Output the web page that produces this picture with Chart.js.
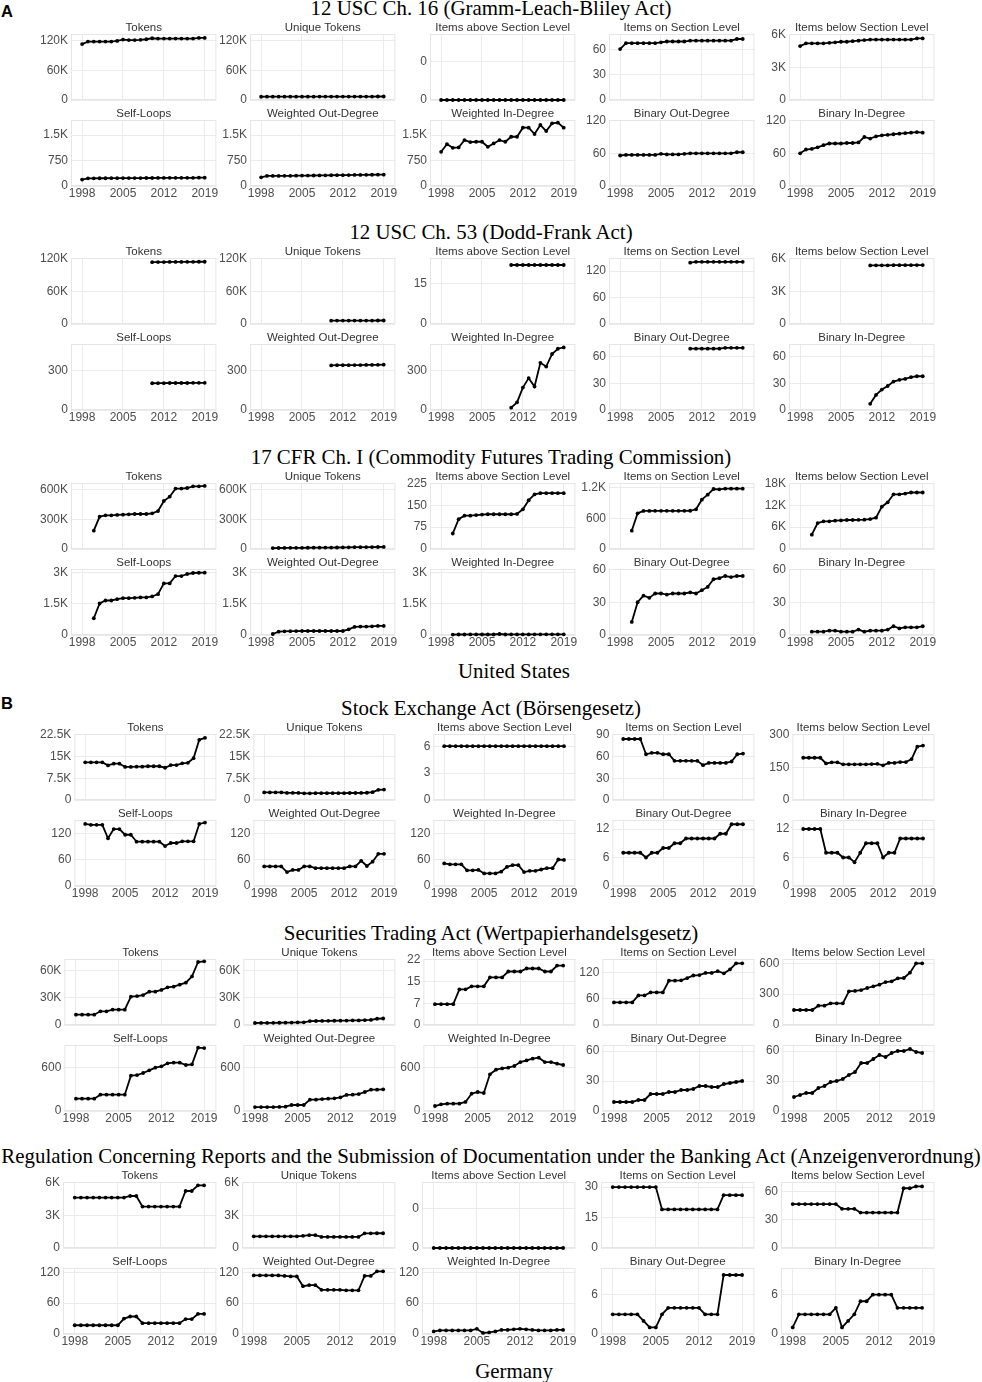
<!DOCTYPE html>
<html>
<head>
<meta charset="utf-8">
<script src="https://cdn.jsdelivr.net/npm/chart.js@4.4.1/dist/chart.umd.min.js"></script>
<style>
  html, body { margin: 0; padding: 0; background: #fff; }
  #page { position: relative; width: 982px; height: 1382px; overflow: hidden; }
  #page canvas { position: absolute; }
  #labels { position: absolute; left: 0; top: 0; }
</style>
</head>
<body>
<div id="page">
  <svg id="labels" width="982" height="1382" xmlns="http://www.w3.org/2000/svg"></svg>
</div>
<script>
// facet titles, same order in every group
const panelNames = ['Tokens', 'Unique Tokens', 'Items above Section Level', 'Items on Section Level',
  'Items below Section Level', 'Self-Loops', 'Weighted Out-Degree', 'Weighted In-Degree',
  'Binary Out-Degree', 'Binary In-Degree'];
const xTicks = [1998, 2005, 2012, 2019];

// ---- 12 USC Ch. 16 (1998-2019)
const usc16Tokens = [113000, 118000, 118000, 118000, 118000, 118000, 119300, 122000, 121000, 121000, 121500, 122700, 124700, 124000, 124000, 124000, 124000, 124000, 124000, 124000, 125300, 125300];
const usc16Unique = [6600, 6700, 6700, 6700, 6700, 6700, 6800, 6800, 6800, 6800, 6900, 6900, 7000, 7000, 7000, 7000, 7000, 7000, 7000, 7000, 7100, 7100];
const usc16Above = [0, 0, 0, 0, 0, 0, 0, 0, 0, 0, 0, 0, 0, 0, 0, 0, 0, 0, 0, 0, 0, 0];
const usc16On = [61, 68, 68, 68, 68, 68, 68, 69, 70, 70, 70, 70, 71, 71, 71, 71, 71, 71, 71, 71, 73, 73];
const usc16Below = [4950, 5200, 5200, 5200, 5200, 5250, 5300, 5350, 5350, 5400, 5450, 5500, 5550, 5550, 5550, 5550, 5550, 5550, 5550, 5550, 5650, 5650];
const usc16Self = [190, 225, 225, 228, 228, 230, 230, 232, 232, 234, 234, 236, 236, 238, 238, 240, 240, 240, 242, 242, 245, 245];
const usc16WOut = [255, 296, 297, 297, 300, 301, 304, 306, 308, 310, 312, 315, 317, 318, 320, 322, 325, 326, 328, 331, 334, 335];
const usc16WIn = [1007, 1234, 1125, 1135, 1352, 1293, 1303, 1303, 1155, 1253, 1352, 1303, 1451, 1451, 1717, 1717, 1530, 1796, 1618, 1845, 1865, 1717];
const usc16BOut = [56, 57, 57, 57, 57, 57, 57, 59, 58, 58, 58, 59, 60, 60, 60, 60, 60, 60, 60, 60, 62, 62];
const usc16BIn = [60, 67, 68, 71, 75, 78, 78, 78, 79, 79, 80, 90, 87, 91, 93, 94, 95, 96, 97, 98, 99, 98];
const usc16Ticks = [[0, 60000, 120000], [0, 60000, 120000], [0, 0.05], [0, 30, 60], [0, 3000, 6000],
  [0, 750, 1500], [0, 750, 1500], [0, 750, 1500], [0, 60, 120], [0, 60, 120]];
const usc16Max = [133300, 133300, 0.0855, 79, 6060, 1944, 1944, 1944, 121.2, 121.2];

// ---- 12 USC Ch. 53 (2010-2019)
const usc53Tokens = [113500, 113800, 113800, 114000, 114000, 114000, 114200, 114200, 114300, 114300];
const usc53Unique = [6100, 6200, 6200, 6200, 6300, 6300, 6300, 6300, 6400, 6400];
const usc53Above = [22, 22, 22, 22, 22, 22, 22, 22, 22, 22];
const usc53On = [139, 141, 141, 141, 141, 141, 141, 141, 141, 141];
const usc53Below = [5380, 5390, 5390, 5390, 5400, 5400, 5400, 5400, 5410, 5410];
const usc53Self = [203, 204, 204, 205, 205, 205, 205, 206, 206, 206];
const usc53WOut = [338, 340, 340, 340, 341, 341, 342, 342, 343, 344];
const usc53WIn = [18, 58, 170, 242, 178, 358, 330, 425, 465, 475];
const usc53BOut = [69, 69, 69, 69, 69, 69, 70, 70, 70, 70];
const usc53BIn = [7, 17, 23, 27, 32, 34, 35, 37, 38, 38];
const usc53Ticks = [[0, 60000, 120000], [0, 60000, 120000], [0, 15], [0, 60, 120], [0, 3000, 6000],
  [0, 300], [0, 300], [0, 300], [0, 30, 60], [0, 30, 60]];
const usc53Max = [121200, 121200, 24.6, 149.6, 6060, 501, 501, 501, 74.3, 74.3];

// ---- 17 CFR Ch. I (2000-2019)
const cfr17Tokens = [186000, 329000, 342000, 342000, 346000, 349000, 353000, 356000, 356000, 356000, 363000, 386000, 488000, 532000, 614000, 614000, 620000, 637000, 637000, 641000];
const cfr17Unique = [9000, 10000, 11000, 11500, 12000, 12000, 12500, 13000, 13500, 14000, 14500, 15000, 16500, 17500, 18500, 19000, 19500, 20000, 20500, 21000];
const cfr17Above = [53, 102, 114, 114, 116, 118, 119, 119, 119, 119, 119, 120, 136, 167, 187, 191, 191, 191, 191, 191];
const cfr17On = [361, 702, 748, 748, 750, 750, 750, 750, 750, 750, 752, 780, 970, 1069, 1180, 1174, 1187, 1187, 1187, 1187];
const cfr17Below = [3930, 7120, 7580, 7580, 7760, 7850, 7950, 7950, 8000, 8050, 8200, 8580, 11600, 12800, 15000, 15000, 15200, 15500, 15500, 15500];
const cfr17Self = [802, 1508, 1652, 1652, 1717, 1765, 1765, 1780, 1797, 1797, 1845, 1957, 2470, 2470, 2823, 2823, 2920, 2968, 2980, 2984];
const cfr17WOut = [48, 160, 176, 185, 190, 192, 192, 192, 192, 192, 192, 192, 192, 272, 385, 401, 405, 417, 433, 433];
const cfr17WIn = [20, 25, 25, 28, 28, 25, 25, 25, 48, 25, 28, 28, 28, 28, 30, 30, 30, 30, 30, 30];
const cfr17BOut = [12, 30, 36, 34, 38, 38, 37, 38, 38, 38, 39, 38, 41, 44, 51, 52, 54, 53, 54, 54];
const cfr17BIn = [3, 3, 3, 4, 4, 3, 3, 3, 5, 3, 4, 4, 4, 5, 8, 6, 7, 7, 7, 8];
const cfr17Ticks = [[0, 300000, 600000], [0, 300000, 600000], [0, 75, 150, 225], [0, 600, 1200], [0, 6000, 12000, 18000],
  [0, 1500, 3000], [0, 1500, 3000], [0, 1500, 3000], [0, 30, 60], [0, 30, 60]];
const cfr17Max = [671000, 671000, 226, 1298, 18100, 3160, 3160, 3160, 60.4, 60.4];

// ---- Börsengesetz (1998-2019)
const borsTokens = [12950, 12950, 12950, 12950, 11900, 12500, 12500, 11360, 11360, 11450, 11450, 11600, 11600, 11600, 11100, 12000, 12000, 12600, 12800, 14400, 20700, 21400];
const borsUnique = [2600, 2600, 2600, 2600, 2450, 2450, 2450, 2300, 2300, 2350, 2350, 2350, 2350, 2350, 2350, 2400, 2400, 2450, 2500, 2700, 3500, 3600];
const borsAbove = [6, 6, 6, 6, 6, 6, 6, 6, 6, 6, 6, 6, 6, 6, 6, 6, 6, 6, 6, 6, 6, 6];
const borsOn = [84, 84, 84, 84, 63, 65, 65, 63, 63, 54, 54, 54, 54, 54, 48, 51, 51, 51, 51, 53, 63, 64];
const borsBelow = [194, 194, 194, 194, 168, 173, 173, 164, 164, 164, 164, 164, 165, 166, 159, 170, 170, 174, 174, 188, 245, 250];
const borsSelf = [143, 141, 141, 141, 110, 131, 131, 118, 118, 102, 102, 102, 102, 102, 92, 99, 99, 103, 103, 103, 143, 146];
const borsWOut = [45, 45, 45, 45, 32, 37, 37, 45, 45, 41, 41, 41, 41, 41, 41, 45, 45, 58, 46, 56, 74, 74];
const borsWIn = [52, 50, 50, 50, 36, 36, 37, 29, 29, 29, 33, 44, 48, 48, 32, 35, 35, 38, 41, 41, 61, 60];
const borsBOut = [7, 7, 7, 7, 6, 7, 7, 8, 8, 9, 9, 10, 10, 10, 10, 10, 10, 11, 11, 13, 13, 13];
const borsBIn = [12, 12, 12, 12, 7, 7, 7, 6, 6, 5, 7, 9, 9, 9, 6, 7, 7, 10, 10, 10, 10, 10];
const borsTicks = [[0, 7500, 15000, 22500], [0, 7500, 15000, 22500], [0, 3, 6], [0, 30, 60, 90], [0, 150, 300],
  [0, 60, 120], [0, 60, 120], [0, 60, 120], [0, 6, 12], [0, 6, 12]];
const borsMax = [22700, 22700, 7.36, 90.9, 303, 152, 152, 152, 13.9, 13.9];

// ---- Wertpapierhandelsgesetz (1998-2019)
const wphgTokens = [11400, 11400, 11400, 11400, 15100, 15100, 16900, 16900, 16900, 31300, 32000, 33100, 36800, 36800, 38700, 41600, 42300, 44500, 46800, 53700, 69600, 70300];
const wphgUnique = [2200, 2300, 2300, 2400, 2500, 2600, 2700, 2800, 2900, 4300, 4400, 4500, 4600, 4700, 4800, 4900, 5000, 5100, 5300, 5600, 6900, 7200];
const wphgAbove = [7, 7, 7, 7, 12, 12, 13, 13, 13, 16, 16, 16, 18, 18, 18, 19, 19, 19, 18, 18, 20, 20];
const wphgOn = [52, 52, 52, 52, 68, 68, 75, 75, 75, 102, 102, 103, 108, 114, 115, 120, 120, 124, 119, 128, 142, 142];
const wphgBelow = [146, 146, 146, 146, 188, 188, 211, 211, 211, 328, 331, 340, 360, 376, 392, 418, 425, 454, 457, 509, 600, 600];
const wphgSelf = [171, 171, 171, 171, 226, 226, 226, 226, 226, 489, 498, 526, 563, 600, 618, 660, 669, 669, 637, 646, 877, 872];
const wphgWOut = [55, 55, 55, 55, 57, 60, 83, 83, 83, 157, 157, 165, 171, 175, 189, 222, 226, 235, 263, 295, 295, 300];
const wphgWIn = [69, 92, 101, 101, 101, 125, 240, 263, 249, 508, 572, 590, 600, 623, 678, 701, 724, 738, 678, 678, 655, 637];
const wphgBOut = [9, 9, 9, 9, 11, 11, 17, 17, 17, 19, 19, 21, 21, 22, 25, 25, 24, 24, 27, 28, 29, 30];
const wphgBIn = [14, 16, 18, 18, 23, 25, 29, 30, 32, 36, 39, 48, 48, 52, 56, 54, 58, 60, 60, 62, 59, 58];
const wphgTicks = [[0, 30000, 60000], [0, 30000, 60000], [0, 7.33, 14.67, 22], [0, 60, 120], [0, 300, 600],
  [0, 600], [0, 600], [0, 600], [0, 30, 60], [0, 30, 60]];
const wphgMax = [72900, 72900, 22.2, 152, 642, 914, 914, 914, 66, 66];

// ---- Anzeigenverordnung (1998-2019)
const anzvTokens = [4650, 4650, 4650, 4650, 4650, 4650, 4650, 4650, 4650, 4800, 4800, 3820, 3820, 3820, 3820, 3820, 3820, 3820, 5260, 5260, 5780, 5780];
const anzvUnique = [1080, 1080, 1080, 1080, 1080, 1080, 1080, 1080, 1120, 1180, 1180, 1020, 1020, 1020, 1020, 1020, 1020, 1020, 1350, 1350, 1360, 1360];
const anzvAbove = [0, 0, 0, 0, 0, 0, 0, 0, 0, 0, 0, 0, 0, 0, 0, 0, 0, 0, 0, 0, 0, 0];
const anzvOn = [30, 30, 30, 30, 30, 30, 30, 30, 19, 19, 19, 19, 19, 19, 19, 19, 19, 19, 26, 26, 26, 26];
const anzvBelow = [47, 47, 47, 47, 47, 47, 47, 47, 42, 42, 42, 38, 38, 38, 38, 38, 38, 38, 64, 64, 66, 66];
const anzvSelf = [17, 17, 17, 17, 17, 17, 17, 17, 30, 34, 34, 21, 21, 21, 21, 21, 21, 21, 29, 29, 39, 39];
const anzvWOut = [114, 114, 114, 114, 114, 113, 112, 112, 93, 95, 95, 86, 86, 86, 86, 85, 85, 85, 113, 113, 122, 122];
const anzvWIn = [5, 7, 7, 7, 7, 7, 7, 10, 2, 3, 5, 8, 8, 9, 10, 9, 8, 7, 7, 7, 8, 8];
const anzvBOut = [3, 3, 3, 3, 3, 2, 1, 1, 3, 4, 4, 4, 4, 4, 4, 3, 3, 3, 9, 9, 9, 9];
const anzvBIn = [1, 3, 3, 3, 3, 3, 3, 4, 1, 2, 3, 5, 5, 6, 6, 6, 6, 4, 4, 4, 4, 4];
const anzvTicks = [[0, 3000, 6000], [0, 3000, 6000], [0, 0.05], [0, 15, 30], [0, 30, 60],
  [0, 60, 120], [0, 60, 120], [0, 60, 120], [0, 6], [0, 6]];
const anzvMax = [6090, 6090, 0.0839, 32.5, 70.7, 128.4, 128.4, 128.4, 10.07, 10.07];

const groups = [
  { title: '12 USC Ch. 16 (Gramm-Leach-Bliley Act)', start: 1998,
    series: [usc16Tokens, usc16Unique, usc16Above, usc16On, usc16Below, usc16Self, usc16WOut, usc16WIn, usc16BOut, usc16BIn],
    ticks: usc16Ticks, max: usc16Max },
  { title: '12 USC Ch. 53 (Dodd-Frank Act)', start: 2010,
    series: [usc53Tokens, usc53Unique, usc53Above, usc53On, usc53Below, usc53Self, usc53WOut, usc53WIn, usc53BOut, usc53BIn],
    ticks: usc53Ticks, max: usc53Max },
  { title: '17 CFR Ch. I (Commodity Futures Trading Commission)', start: 2000,
    series: [cfr17Tokens, cfr17Unique, cfr17Above, cfr17On, cfr17Below, cfr17Self, cfr17WOut, cfr17WIn, cfr17BOut, cfr17BIn],
    ticks: cfr17Ticks, max: cfr17Max },
  { title: 'Stock Exchange Act (Börsengesetz)', start: 1998,
    series: [borsTokens, borsUnique, borsAbove, borsOn, borsBelow, borsSelf, borsWOut, borsWIn, borsBOut, borsBIn],
    ticks: borsTicks, max: borsMax },
  { title: 'Securities Trading Act (Wertpapierhandelsgesetz)', start: 1998,
    series: [wphgTokens, wphgUnique, wphgAbove, wphgOn, wphgBelow, wphgSelf, wphgWOut, wphgWIn, wphgBOut, wphgBIn],
    ticks: wphgTicks, max: wphgMax },
  { title: 'Regulation Concerning Reports and the Submission of Documentation under the Banking Act (Anzeigenverordnung)', start: 1998,
    series: [anzvTokens, anzvUnique, anzvAbove, anzvOn, anzvBelow, anzvSelf, anzvWOut, anzvWIn, anzvBOut, anzvBIn],
    ticks: anzvTicks, max: anzvMax }
];

// layout
const titleBaselines = [14.5, 239, 464, 715, 939.5, 1163];
const L = 40, R = 934, GAP = 3, SPACE = 3;
const TITLE_H = 13, PLOT_H = 66, XLAB_PAD = 2;
const SANS = '"Liberation Sans", Arial, sans-serif';
const SERIF = '"Liberation Serif", "Times New Roman", serif';

Chart.defaults.font.family = SANS;

const fmt = v => v >= 1000 ? (Math.round(v / 100) / 10) + 'K' : String(Math.round(v));

const meas = document.createElement('canvas').getContext('2d');
meas.font = '12px ' + SANS;

const frame = {
  id: 'frame',
  beforeDatasetsDraw(chart) {
    const { ctx, chartArea: a } = chart;
    ctx.save();
    ctx.strokeStyle = '#e6e6e6';
    ctx.lineWidth = 1;
    ctx.strokeRect(a.left + 0.5, a.top + 0.5, a.width - 1, a.height - 1);
    ctx.restore();
  }
};

const page = document.getElementById('page');

function makePanel(g, k, left, axisW, panelW, plotTop, bottomRow) {
  const canvas = document.createElement('canvas');
  const w = Math.ceil(axisW + panelW + 6);
  const padB = bottomRow ? 2 : 12;
  // the x axis reserves its tick padding twice
  const h = TITLE_H + PLOT_H + (bottomRow ? 12 + 2 * XLAB_PAD : 0) + padB;
  canvas.width = w;
  canvas.height = h;
  canvas.style.left = left + 'px';
  canvas.style.top = (plotTop - TITLE_H) + 'px';
  page.appendChild(canvas);
  const ticks = g.ticks[k];
  new Chart(canvas, {
    type: 'line',
    data: {
      datasets: [{
        data: g.series[k].map((v, i) => ({ x: g.start + i, y: v })),
        borderColor: '#000', borderWidth: 1.8,
        pointRadius: 1.9, pointBackgroundColor: '#000', pointBorderWidth: 0,
        tension: 0, clip: false
      }]
    },
    options: {
      responsive: false, animation: false, events: [],
      layout: { padding: { left: 0, top: 0, right: w - axisW - panelW, bottom: padB } },
      plugins: {
        legend: { display: false }, tooltip: { enabled: false },
        title: { display: true, text: panelNames[k], color: '#333', fullSize: false,
          font: { size: 11.5, lineHeight: 1, weight: 'normal' }, padding: { top: 1.5, bottom: 0 } }
      },
      scales: {
        x: {
          type: 'linear', min: 1996.1, max: 2021,
          afterBuildTicks: s => { s.ticks = xTicks.map(v => ({ value: v })); },
          ticks: { display: bottomRow, padding: XLAB_PAD, color: '#4d4d4d', maxRotation: 0, autoSkip: false,
            font: { size: 12, lineHeight: 1 }, callback: v => String(v) },
          grid: { color: '#ebebeb', drawTicks: false }, border: { display: false }
        },
        y: {
          min: 0, max: g.max[k],
          afterBuildTicks: s => { s.ticks = ticks.map(v => ({ value: v })); },
          afterFit: s => { s.width = axisW; },
          ticks: { padding: GAP, color: '#4d4d4d', autoSkip: false, font: { size: 12 }, callback: v => fmt(v) },
          grid: { color: '#ebebeb', drawTicks: false }, border: { display: false }
        }
      }
    },
    plugins: [frame]
  });
}

groups.forEach((g, gi) => {
  const T = titleBaselines[gi];
  const labelW = Math.max(...g.ticks.flat().map(v => meas.measureText(fmt(v)).width));
  const axisW = labelW + GAP;
  const panelW = (R - L - 5 * axisW - 4 * SPACE) / 5;
  for (let c = 0; c < 5; c++) {
    const left = Math.round(L + c * (axisW + panelW + SPACE));
    makePanel(g, c, left, axisW, panelW, T + 19, false);
    makePanel(g, c + 5, left, axisW, panelW, T + 105, true);
  }
});

// text labels
const svg = document.getElementById('labels');
function addText(str, x, y, opts) {
  const t = document.createElementNS('http://www.w3.org/2000/svg', 'text');
  t.setAttribute('x', x);
  t.setAttribute('y', y);
  t.setAttribute('font-family', opts.family);
  t.setAttribute('font-size', opts.size);
  if (opts.weight) t.setAttribute('font-weight', opts.weight);
  t.setAttribute('text-anchor', opts.anchor || 'middle');
  t.setAttribute('fill', '#000');
  t.textContent = str;
  svg.appendChild(t);
}
groups.forEach((g, gi) => addText(g.title, 491, titleBaselines[gi], { family: SERIF, size: 20.9 }));
addText('United States', 514, 678, { family: SERIF, size: 20.9 });
addText('Germany', 514, 1377.5, { family: SERIF, size: 20.9 });
addText('A', 1, 16.7, { family: SANS, size: 16.5, weight: 'bold', anchor: 'start' });
addText('B', 1, 709, { family: SANS, size: 16.5, weight: 'bold', anchor: 'start' });
</script>
</body>
</html>
